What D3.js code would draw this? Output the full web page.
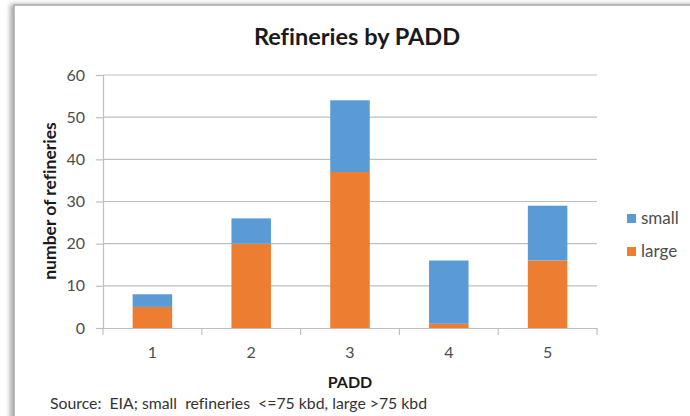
<!DOCTYPE html>
<meta charset="utf-8">

<head>
  <title>Refineries by PADD</title>
</head>

<style>
  body { margin: 0; background: #fff; }
  text { font-family: Lato, "Open Sans", sans-serif; font-variant-ligatures: none; }
</style>

<body>
  <svg width="690" height="416"></svg>

  <script src="https://cdnjs.cloudflare.com/ajax/libs/d3/7.8.5/d3.min.js"></script>

  <script>
    var padd = ['1', '2', '3', '4', '5'];
    var large = [5, 20, 37, 1, 16];
    var small = [3, 6, 17, 15, 13];
    var yTicks = [0, 10, 20, 30, 40, 50, 60];
    var seriesNames = ['large', 'small'];
    var colors = { large: '#ED7D31', small: '#5B9BD5' };

    var svg = d3.select('svg');

    // frame with shadow
    var defs = svg.append('defs');
    var f = defs.append('filter').attr('id', 'shadow')
      .attr('x', '-5%').attr('y', '-5%').attr('width', '110%').attr('height', '110%');
    f.append('feDropShadow').attr('dx', -3).attr('dy', 0)
      .attr('stdDeviation', 2.5).attr('flood-color', '#000').attr('flood-opacity', 0.35);

    svg.append('rect')
      .attr('x', 14).attr('y', 5)
      .attr('width', 720).attr('height', 440)
      .attr('fill', '#fff')
      .attr('stroke', '#a8a8a8')
      .attr('stroke-width', 1.5)
      .attr('filter', 'url(#shadow)');

    var plotLeft = 103, plotRight = 597, plotTop = 75, plotBottom = 328;

    var x = d3.scaleBand().domain(padd).range([plotLeft, plotRight]).paddingInner(0.6).paddingOuter(0.3);
    var y = d3.scaleLinear().domain([0, 60]).range([plotBottom, plotTop]);

    // gridlines
    svg.append('g')
      .selectAll('line')
      .data(yTicks.slice(1))
      .enter()
      .append('line')
      .attr('x1', plotLeft).attr('x2', plotRight)
      .attr('y1', function(d) { return y(d); })
      .attr('y2', function(d) { return y(d); })
      .attr('stroke', '#bfbfbf')
      .attr('stroke-width', 1.2);

    var table = padd.map(function(p, i) {
      return { padd: p, large: large[i], small: small[i] };
    });
    var stacked = d3.stack().keys(seriesNames)(table);

    svg.append('g')
      .selectAll('g')
      .data(stacked)
      .enter()
      .append('g')
      .attr('fill', function(d) { return colors[d.key]; })
      .selectAll('rect')
      .data(function(d) { return d; })
      .enter()
      .append('rect')
      .attr('x', function(d) { return x(d.data.padd); })
      .attr('width', x.bandwidth())
      .attr('y', function(d) { return y(d[1]); })
      .attr('height', function(d) { return y(d[0]) - y(d[1]); });

    // y axis
    var yAxis = svg.append('g')
      .attr('transform', 'translate(' + plotLeft + ',0)')
      .call(d3.axisLeft(y).tickValues(yTicks).tickSize(7).tickPadding(11));
    yAxis.select('.domain').attr('stroke', '#bfbfbf').attr('stroke-width', 1.2);
    yAxis.selectAll('.tick line').attr('stroke', '#bfbfbf').attr('stroke-width', 1.2);
    yAxis.selectAll('.tick text')
      .attr('fill', '#4d4d4d')
      .style('font-size', '16px');

    // x axis, ticks between categories
    var xAxis = svg.append('g')
      .attr('transform', 'translate(0,' + plotBottom + ')')
      .call(d3.axisBottom(x).tickSize(0).tickPadding(19));
    xAxis.select('.domain').attr('stroke', '#bfbfbf').attr('stroke-width', 1.2);
    xAxis.selectAll('.tick text')
      .attr('fill', '#4d4d4d')
      .style('font-size', '16px');
    xAxis.selectAll('.sep')
      .data(d3.range(padd.length + 1))
      .enter()
      .append('line')
      .attr('x1', function(i) { return plotLeft + i * x.step(); })
      .attr('x2', function(i) { return plotLeft + i * x.step(); })
      .attr('y1', 0).attr('y2', 7)
      .attr('stroke', '#bfbfbf')
      .attr('stroke-width', 1.2);

    // titles
    svg.append('text')
      .attr('x', 357).attr('y', 45)
      .attr('text-anchor', 'middle')
      .attr('fill', '#1a1a1a')
      .style('font-size', '23.5px')
      .style('font-weight', 'bold')
      .text('Refineries by PADD');

    svg.append('text')
      .attr('transform', 'translate(56,201) rotate(-90)')
      .attr('text-anchor', 'middle')
      .attr('fill', '#1a1a1a')
      .style('font-size', '17.5px')
      .style('font-weight', 'bold')
      .text('number of refineries');

    svg.append('text')
      .attr('x', (plotLeft + plotRight) / 2).attr('y', 388)
      .attr('text-anchor', 'middle')
      .attr('fill', '#1a1a1a')
      .style('font-size', '16px')
      .style('font-weight', 'bold')
      .text('PADD');

    svg.append('text')
      .attr('x', 50).attr('y', 409)
      .attr('fill', '#333')
      .style('font-size', '15.8px')
      .style('white-space', 'pre')
      .text('Source:  EIA; small  refineries  <=75 kbd, large >75 kbd');

    // legend
    var legend = svg.append('g')
      .selectAll('g')
      .data(['small', 'large'])
      .enter()
      .append('g')
      .attr('transform', function(d, i) { return 'translate(627,' + (214 + i * 33) + ')'; });
    legend.append('rect')
      .attr('width', 9).attr('height', 9)
      .attr('fill', function(d) { return colors[d]; });
    legend.append('text')
      .attr('x', 14).attr('y', 9.5)
      .attr('fill', '#4d4d4d')
      .style('font-size', '17px')
      .text(function(d) { return d; });
  </script>
</body>

</html>
